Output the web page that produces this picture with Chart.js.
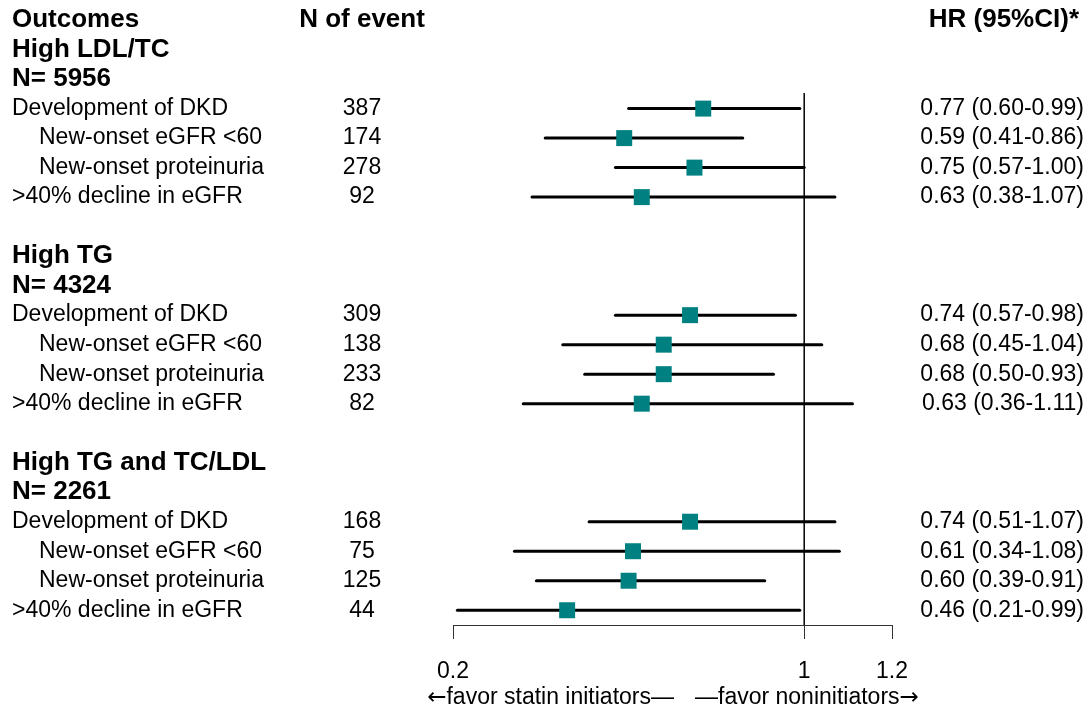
<!DOCTYPE html>
<html>
<head>
<meta charset="utf-8">
<script src="https://cdn.jsdelivr.net/npm/chart.js@4"></script>
<style>
  html, body { margin: 0; padding: 0; background: #fff; }
</style>
</head>
<body>
<canvas id="forest" width="1092" height="711"></canvas>
<script>
// forest plot data, one entry per lipid group
var groups = ['High LDL/TC', 'High TG', 'High TG and TC/LDL'];
var groupN = [5956, 4324, 2261];
var outcomes = ['Development of DKD', 'New-onset eGFR <60', 'New-onset proteinuria', '>40% decline in eGFR'];
var indented = [false, true, true, false];
var events = [[387, 174, 278, 92], [309, 138, 233, 82], [168, 75, 125, 44]];
var hr = [[0.77, 0.59, 0.75, 0.63], [0.74, 0.68, 0.68, 0.63], [0.74, 0.61, 0.60, 0.46]];
var lower = [[0.60, 0.41, 0.57, 0.38], [0.57, 0.45, 0.50, 0.36], [0.51, 0.34, 0.39, 0.21]];
var upper = [[0.99, 0.86, 1.00, 1.07], [0.98, 1.04, 0.93, 1.11], [1.07, 1.08, 0.91, 0.99]];
var xTicks = [0.2, 1, 1.2];
var refValue = 1;

var FONT = "'Liberation Sans', Arial, sans-serif";
var ARROW_FONT = "23px 'DejaVu Sans', sans-serif";

// row index of each item (0 = header row)
function groupRow(g) { return 1 + g * 7; }
function outcomeRow(g, i) { return groupRow(g) + 2 + i; }

var ciSets = [];
var points = [];
groups.forEach(function (name, g) {
  outcomes.forEach(function (o, i) {
    var r = outcomeRow(g, i);
    ciSets.push({
      type: 'line',
      data: [{ x: lower[g][i], y: r }, { x: upper[g][i], y: r }],
      borderColor: '#000',
      borderWidth: 3,
      pointRadius: 0,
      borderCapStyle: 'round',
      order: 2
    });
    points.push({ x: hr[g][i], y: r });
  });
});

var lastRow = outcomeRow(groups.length - 1, outcomes.length - 1);

// draws text pieces with mixed fonts in one run
function drawRun(ctx, parts, x, y, align) {
  var total = 0;
  parts.forEach(function (p) { ctx.font = p.f; p.w = ctx.measureText(p.t).width; total += p.w; });
  var cx = align === 'right' ? x - total : x;
  ctx.textAlign = 'left';
  parts.forEach(function (p) {
    ctx.font = p.f;
    ctx.fillText(p.t, cx, y);
    cx += p.w;
  });
}

var textPlugin = {
  id: 'forestText',
  afterDraw: function (chart) {
    var ctx = chart.ctx;
    var ys = chart.scales.y;
    ctx.save();
    ctx.fillStyle = '#000';
    ctx.textBaseline = 'middle';

    var bold = 'bold 26px ' + FONT;
    var reg = '23px ' + FONT;

    // header
    var y0 = ys.getPixelForValue(0);
    ctx.font = bold;
    ctx.textAlign = 'left';
    ctx.fillText('Outcomes', 12, y0);
    ctx.textAlign = 'center';
    ctx.fillText('N of event', 362, y0);
    ctx.textAlign = 'right';
    ctx.fillText('HR (95%CI)*', 1079, y0);

    groups.forEach(function (name, g) {
      var gr = groupRow(g);
      ctx.font = bold;
      ctx.textAlign = 'left';
      ctx.fillText(name, 12, ys.getPixelForValue(gr));
      ctx.fillText('N= ' + groupN[g], 12, ys.getPixelForValue(gr + 1));

      ctx.font = reg;
      outcomes.forEach(function (o, i) {
        var y = ys.getPixelForValue(outcomeRow(g, i));
        ctx.textAlign = 'left';
        ctx.fillText(o, indented[i] ? 39 : 12, y);
        ctx.textAlign = 'center';
        ctx.fillText(String(events[g][i]), 362, y);
        ctx.textAlign = 'right';
        ctx.fillText(hr[g][i].toFixed(2) + ' (' + lower[g][i].toFixed(2) + '-' + upper[g][i].toFixed(2) + ')', 1084, y);
      });
    });

    // direction labels under the axis
    drawRun(ctx, [{ t: '\u2190', f: ARROW_FONT }, { t: 'favor statin initiators\u2014', f: reg }], 674, 698, 'right');
    drawRun(ctx, [{ t: '\u2014favor noninitiators', f: reg }, { t: '\u2192', f: ARROW_FONT }], 695, 698, 'left');
    ctx.restore();
  }
};

new Chart(document.getElementById('forest'), {
  type: 'scatter',
  data: {
    datasets: [{
      type: 'line',
      data: [{ x: refValue, y: 2.47 }, { x: refValue, y: lastRow + 0.5 }],
      borderColor: '#000',
      borderWidth: 1.5,
      pointRadius: 0,
      order: 3
    }].concat(ciSets).concat([{
      data: points,
      pointStyle: 'rect',
      pointRadius: 11.3,
      backgroundColor: '#008080',
      borderColor: '#008080',
      borderWidth: 0,
      order: 1
    }])
  },
  options: {
    responsive: false,
    animation: false,
    devicePixelRatio: 1,
    layout: { padding: { left: 453, right: 200, top: 0, bottom: 0 }, autoPadding: false },
    plugins: {
      legend: { display: false },
      tooltip: { enabled: false }
    },
    scales: {
      x: {
        type: 'linear',
        min: 0.2,
        max: 1.2,
        afterBuildTicks: function (scale) {
          scale.ticks = xTicks.map(function (v) { return { value: v }; });
        },
        afterFit: function (scale) { scale.height = 86; },
        grid: {
          drawOnChartArea: false,
          drawTicks: true,
          tickLength: 14,
          color: '#333',
          lineWidth: 1
        },
        border: { display: true, color: '#333', width: 1 },
        ticks: {
          color: '#000',
          padding: 19,
          maxRotation: 0,
          autoSkip: false,
          font: { family: FONT, size: 23 },
          callback: function (v) { return String(v); }
        }
      },
      y: {
        type: 'linear',
        reverse: true,
        min: -0.68,
        max: lastRow + 0.5,
        display: false,
        afterFit: function (scale) { scale.paddingTop = 0; scale.paddingBottom = 0; }
      }
    }
  },
  plugins: [textPlugin]
});
</script>
</body>
</html>
